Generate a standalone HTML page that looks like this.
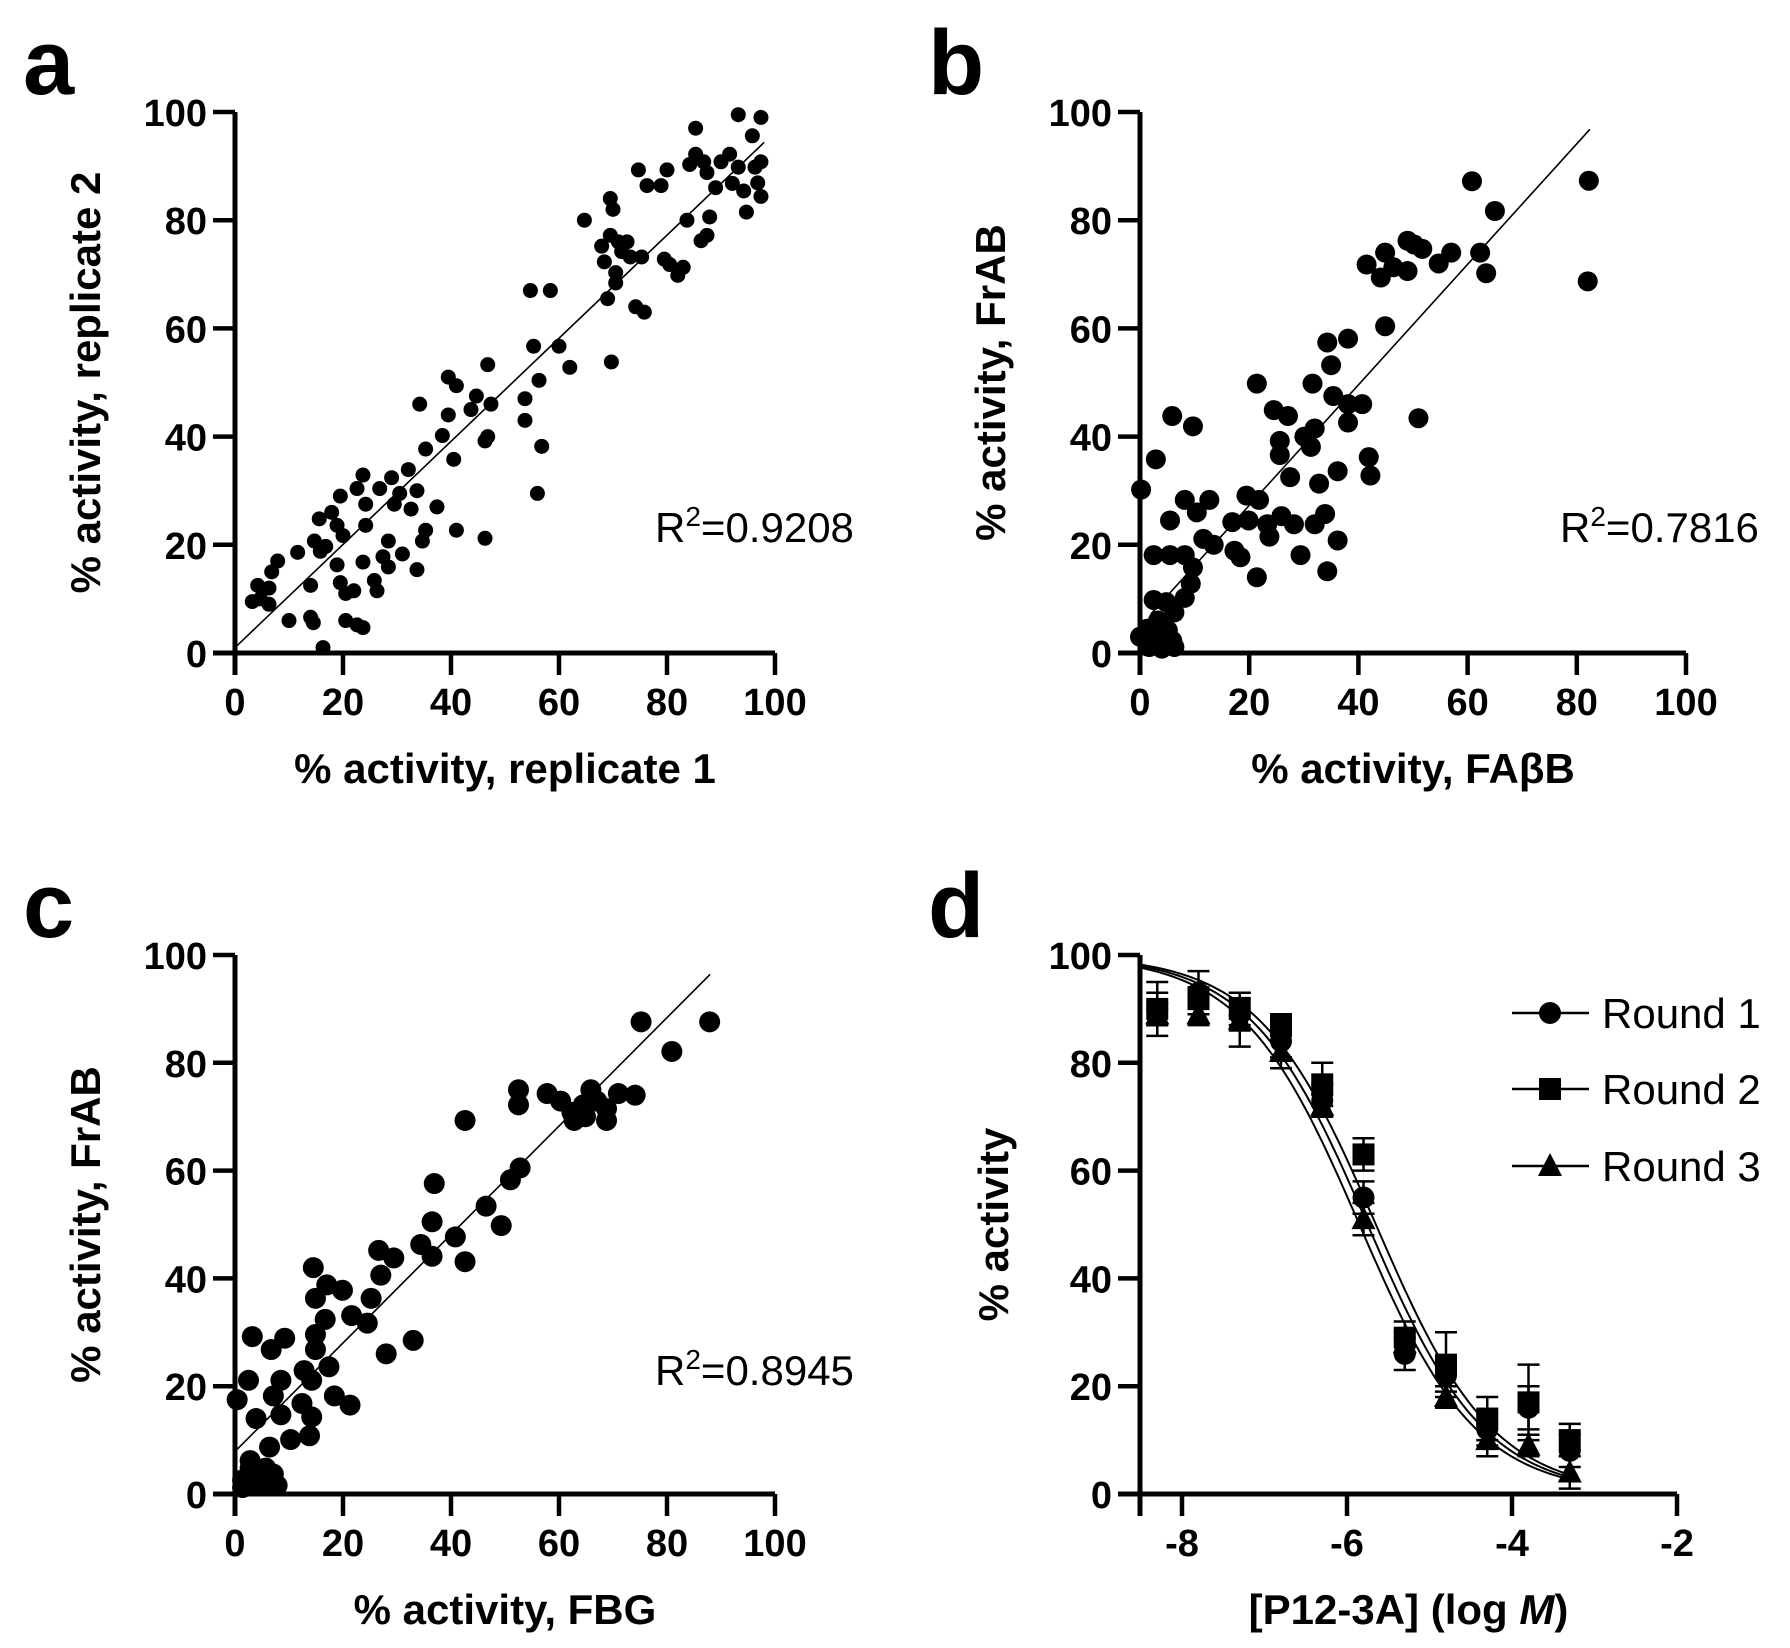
<!DOCTYPE html>
<html><head><meta charset="utf-8"><style>
html,body{margin:0;padding:0;background:#fff;}
svg{display:block;font-family:"Liberation Sans",Arial,sans-serif;}
</style></head><body>
<svg id="chart" width="1790" height="1648" viewBox="0 0 1790 1648" xmlns="http://www.w3.org/2000/svg"></svg>
<script>
// ---------- data ----------
const ticks100 = [0,20,40,60,80,100];
const dXTicks = [-8,-6,-4,-2];
const aX = [3.2,4.7,4.2,6.3,6.8,7.9,6.3,10,11.6,14,14.5,14,15.6,14.7,15.8,16.8,17.9,18.9,19.5,16.3,18.9,19.5,20.5,22,20.5,22.6,23.7,20,22.6,23.7,24.2,24.2,23.7,25.8,26.3,26.8,28.4,27.4,28.4,29,30.5,31,32.1,33.7,33.7,34.7,35.3,35.3,34.2,32.6,37.4,38.4,39.5,39.5,41,40.5,41,43.7,44.7,46.3,46.8,46.8,46.3,47.4,53.7,53.7,54.7,55.3,56.3,56.8,56,58.4,60,62,64.7,69,69.7,69.5,70,67.9,68.4,69.5,71,71.6,72.6,70.5,70.5,73.2,75.3,74.2,75.8,74.7,76.3,78.9,80,79.5,80.5,82,83,83.7,85.3,84.2,85.3,86.8,87.4,87.9,87.4,86.3,89,90,91.6,92.1,93.2,93.2,94.2,94.7,95.8,96.3,96.8,97.4,97.4,97.4,29.5];
const aY = [9.5,10,12.5,12,15,17,9,6,18.6,6.6,5.6,12.5,24.8,20.7,18.8,19.7,26,23.6,29,1,16.3,13,11,11.5,6,5.2,4.7,21.7,30.4,32.9,27.5,23.6,16.8,13.4,11.5,30.4,20.7,17.8,15.9,32.4,29.5,18.3,33.9,30,15.4,20.7,22.7,37.7,46,26.6,27,40.2,44,51,49.4,35.8,22.7,45,47.5,39.2,53.3,40,21.2,46,47,43,67,56.7,50.4,38.2,29.5,67,56.7,52.8,80,65.5,53.8,84,82,75.2,72.3,77.2,76,74.2,76,70.3,68.4,73.2,73.2,64,63,89.3,86.4,86.4,89.3,72.8,71.8,69.8,71.3,80,97,90.3,92.2,90.8,88.8,80.6,77.2,76.2,86,90.8,92.2,86.8,99.5,89.8,85.4,81.5,95.6,89.8,86.9,99,90.8,84.4,27.5];
const aFit = [1, 96.3];
const bX = [60.8,82.2,65,82,41.5,44.9,44.1,46.4,49,50.2,49,51.7,54.7,57,62.3,63.4,44.9,34.3,38.1,35,21.4,31.6,35.4,38.1,40.7,38.1,51,24.5,27.1,5.9,9.7,25.6,30.1,32,25.6,31.3,2.9,41.9,42.2,36.2,32.8,27.5,0.2,19.5,21.8,8.2,12.7,10.4,5.5,16.9,19.9,23.3,25.9,28.2,32,33.9,11.6,13.5,17.3,18.4,23.7,36.2,29.4,21.4,34.3,2.5,5.5,8.2,9.7,9.3,8.2,4.8,2.5,6.3,3.3,1.4,0,5.1,5.9,1.7,4,6.3,3.3];
const bY = [87.2,87.3,81.7,68.7,71.8,74,69.4,71.3,76.2,75.5,70.6,74.7,72,74,74,70.2,60.4,57.4,58.1,53.2,49.8,49.8,47.5,46,46,42.6,43.4,44.9,43.8,43.8,41.9,39.2,40,41.5,36.6,38.1,35.8,36.2,32.8,33.6,31.3,32.5,30.2,29.1,28.3,28.3,28.3,26,24.5,24.2,24.5,23.8,25.3,23.8,23.8,25.7,21.1,20,18.9,17.7,21.5,20.8,18.1,14,15.1,18.1,18.1,18.1,15.8,12.8,10.2,9.4,9.8,7.5,6,4.5,3,4.2,2.3,1.1,0.8,1.1,3];
const bFit = [5, 1.114];
const cX = [75.2,87.9,80.9,52.5,52.5,57.8,60.3,62.4,62.8,64.5,65.9,67,68.8,68.8,71,74.1,64.9,42.6,36.9,52.8,51,46.5,49.3,36.5,40.8,42.6,34.4,36.5,26.6,29.4,27,14.5,17,19.9,14.9,25.2,21.6,24.5,16.7,3.2,9.2,6.7,14.9,14.9,28,33,17.4,12.8,14.2,8.5,2.5,0.4,18.4,21.3,7.1,12.4,14.2,3.9,8.5,10.3,13.8,6.4,1.4,2.8,5.7,7.1,4.3,6.4,1.4,7.8,2.8];
const cY = [87.6,87.6,82.1,75,72.2,74.3,72.9,70.8,69.3,72.2,75,72.9,69.3,71.5,74.3,74,70,69.3,57.6,60.5,58.3,53.4,49.8,50.5,47.7,43.1,46.3,44.1,45.2,43.8,40.6,42,38.8,37.8,36.3,36.3,33.1,31.7,32.4,29.2,28.9,26.8,29.6,26.8,26,28.5,23.6,22.9,21.1,21.1,21.1,17.5,18.2,16.5,18.2,16.8,14.3,14,14.7,10.1,10.8,8.7,2.6,4.8,4.8,3.7,1.9,1.6,1.2,1.6,6.2];
const cFit = [7.9, 1.006];
const dX = [-8.3,-7.8,-7.3,-6.8,-6.3,-5.8,-5.3,-4.8,-4.3,-3.8,-3.3];
const round1 = [90,93,89,84,73,55,26,22,12,16,8];
const round1Err = [3,4,3,3,3,3,3,3,3,4,3];
const round2 = [90,92,90,87,76,63,29,24,14,17,10];
const round2Err = [5,2,3,2,4,3,3,6,4,7,3];
const round3 = [89,89,88,82,72,51,28,18,10,9,4];
const round3Err = [2,2,5,3,2,3,2,2,3,2,3];
const fitLogIC50 = [-5.75,-5.65,-5.85];
const fitHill = [0.61,0.61,0.61];
const fitTop = [100,100,100];
const roundNames = ['Round 1','Round 2','Round 3'];

// ---------- helpers ----------
const NS = 'http://www.w3.org/2000/svg';
const svg = document.getElementById('chart');
function mk(tag, attrs, parent){
  const e = document.createElementNS(NS, tag);
  for (const k in attrs) e.setAttribute(k, attrs[k]);
  (parent || svg).appendChild(e);
  return e;
}
function txt(str, attrs, parent){
  const e = mk('text', attrs, parent);
  e.textContent = str;
  return e;
}
function scale(d0,d1,r0,r1){ return v => r0 + (v - d0) * (r1 - r0) / (d1 - d0); }

function drawAxes(g, p, sx, sy, xt, yt){
  const ax = mk('path', {d:`M${p.left-22} ${p.bottom}H${p.right}M${p.left} ${p.top}V${p.bottom+22}`, stroke:'#000','stroke-width':5, fill:'none'}, g);
  
  
  yt.forEach(v => {
    const t = mk('line', {x1:p.left-22, x2:p.left, y1:sy(v), y2:sy(v), stroke:'#000','stroke-width':4.5}, g);
    
    
    const l = txt(String(v), {x:p.left-28, y:sy(v)+14, 'text-anchor':'end','font-size':38,'font-weight':'bold'}, g);
    
    
  });
  xt.forEach(v => {
    const t = mk('line', {x1:sx(v), x2:sx(v), y1:p.bottom, y2:p.bottom+22, stroke:'#000','stroke-width':4.5}, g);
    
    
    const l = txt(String(v), {x:sx(v), y:p.bottom+62, 'text-anchor':'middle','font-size':38,'font-weight':'bold'}, g);
    
    
  });
}
function titles(g, p, letter, xt, yt, ytx){
  const L = txt(letter, {x:p.left-212, y:p.top-18, 'font-size':92,'font-weight':'bold'}, g);
  
  
  const X = txt('', {x:(p.left+p.right)/2, y:p.bottom+130, 'text-anchor':'middle','font-size':42,'font-weight':'bold'}, g);
  
  
  if (typeof xt === 'string') X.textContent = xt; else xt(X);
  const cy = (p.top+p.bottom)/2;
  const Y = txt(yt, {x:ytx, y:cy, 'text-anchor':'middle','font-size':42,'font-weight':'bold', transform:`rotate(-90 ${ytx} ${cy})`}, g);
  
  
}
function scatter(name, p, xs, ys, fit, fitRange, r, r2, letter, xt, yt){
  const g = mk('g', {});
  
  
  const sx = scale(0,100,p.left,p.right), sy = scale(0,100,p.bottom,p.top);
  xs.forEach((x,i) => {
    const c = mk('circle', {cx:sx(x), cy:sy(ys[i]), r:r, fill:'#000'}, g);
    
    
  });
  const f = v => fit === aFit ? fit[0] + (fit[1]-fit[0])*v/100 : fit[0] + fit[1]*v;
  const ln = mk('line', {x1:sx(fitRange[0]), y1:sy(f(fitRange[0])), x2:sx(fitRange[1]), y2:sy(f(fitRange[1])), stroke:'#000','stroke-width':1.6}, g);
  
  
  drawAxes(g, p, sx, sy, ticks100, ticks100);
  const R = txt('', {x:p.left+420, y:p.top+430, 'font-size':42}, g);
  
  
  const t1 = mk('tspan', {}, R); t1.textContent = 'R';
  const t2 = mk('tspan', {dy:-16,'font-size':28}, R); t2.textContent = '2';
  const t3 = mk('tspan', {dy:16}, R); t3.textContent = '=' + r2;
  titles(g, p, letter, xt, yt, p.left-135);
}

// ---------- panels a, b, c ----------
const pA = {left:235,right:775,top:112,bottom:653};
const pB = {left:1140,right:1686,top:112,bottom:653};
const pC = {left:235,right:775,top:955,bottom:1494};
scatter('panel-a-scatter', pA, aX, aY, aFit, [0,98], 7.5, '0.9208', 'a', '% activity, replicate 1', '% activity, replicate 2');
scatter('panel-b-scatter', pB, bX, bY, bFit, [2,82.4], 10, '0.7816', 'b', '% activity, FA\u03B2B', '% activity, FrAB');
scatter('panel-c-scatter', pC, cX, cY, cFit, [0,88], 10.5, '0.8945', 'c', '% activity, FBG', '% activity, FrAB');

// ---------- panel d ----------
(function(){
  const p = {left:1140,right:1677,top:955,bottom:1494};
  const g = mk('g', {});
  
  
  const sx = scale(-8,-2,1182,1677), sy = scale(0,100,p.bottom,p.top);
  const series = [round1, round2, round3];
  const errs = [round1Err, round2Err, round3Err];
  function marker(k, x, y, parent){
    let m;
    if (k === 0) m = mk('circle', {cx:x, cy:y, r:11, fill:'#000'}, parent);
    else if (k === 1) m = mk('rect', {x:x-11, y:y-11, width:22, height:22, fill:'#000'}, parent);
    else m = mk('path', {d:`M${x} ${y-13}L${x+12} ${y+10}L${x-12} ${y+10}Z`, fill:'#000'}, parent);
    return m;
  }
  for (let k=0;k<3;k++){
    let d = '';
    for (let v=-8.5; v<=-3.25; v+=0.05){
      const y = fitTop[k]/(1+Math.pow(10, fitHill[k]*(v - fitLogIC50[k])));
      d += (d ? 'L' : 'M') + sx(v).toFixed(1) + ' ' + sy(y).toFixed(1);
    }
    const c = mk('path', {d:d, fill:'none', stroke:'#000','stroke-width':2}, g);
    
    
  }
  for (let k=0;k<3;k++){
    const sg = mk('g', {}, g);
    
    
    dX.forEach((x,i) => {
      const v = series[k][i], e = errs[k][i], X = sx(x);
      const eb = mk('path', {d:`M${X} ${sy(v-e)}V${sy(v+e)}M${X-11} ${sy(v+e)}H${X+11}M${X-11} ${sy(v-e)}H${X+11}`, stroke:'#000','stroke-width':2.5, fill:'none'}, sg);
      
      
      const m = marker(k, X, sy(v), sg);
      
      
    });
  }
  drawAxes(g, {left:p.left,right:p.right,top:p.top,bottom:p.bottom}, sx, sy, dXTicks, ticks100);
  titles(g, p, 'd', el => {
    const a = mk('tspan', {}, el); a.textContent = '[P12-3A] (log ';
    const b = mk('tspan', {'font-style':'italic'}, el); b.textContent = 'M';
    const c = mk('tspan', {}, el); c.textContent = ')';
  }, '% activity', 1008);
  const lg = mk('g', {}, g);
  
  
  const ly = [1013,1089,1166];
  roundNames.forEach((n,k) => {
    const e = mk('g', {}, lg);
    
    
    mk('line', {x1:1512, x2:1589, y1:ly[k], y2:ly[k], stroke:'#000','stroke-width':2.5}, e);
    marker(k, 1550, ly[k], e);
    txt(n, {x:1602, y:ly[k]+15, 'font-size':42}, e);
  });
})();
</script>
</body></html>
